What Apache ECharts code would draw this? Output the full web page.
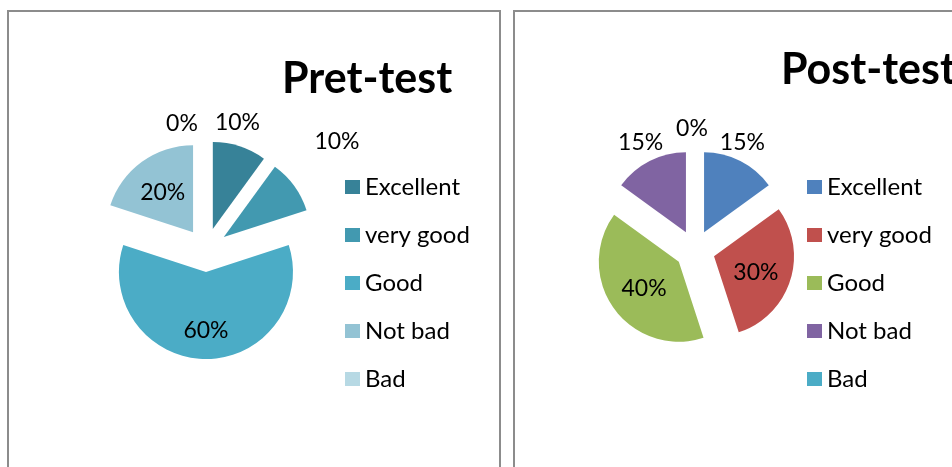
<!DOCTYPE html>
<html>
<head>
<meta charset="utf-8">
<script src="https://cdn.jsdelivr.net/npm/echarts@6/dist/echarts.min.js"></script>
<style>
  html, body { margin: 0; padding: 0; background: #fff; }
  body { width: 952px; height: 467px; position: relative; overflow: hidden; }
  .panel {
    position: absolute; top: 10px; height: 480px;
    box-sizing: border-box;
    border: 2px solid #8c8c8c; border-bottom: none;
  }
  .chart { position: absolute; top: 0; height: 467px; }
</style>
</head>
<body>
<div class="panel" style="left:7px;width:494px"></div>
<div class="panel" style="left:513px;width:460px"></div>
<div id="pre" class="chart" style="left:0;width:507px"></div>
<div id="post" class="chart" style="left:507px;width:445px"></div>

<script>
// categories shared by both charts
const categories = ['Excellent', 'very good', 'Good', 'Not bad', 'Bad']
// percent of students per rating
const preValues = [10, 10, 60, 20, 0]
const postValues = [15, 30, 40, 15, 0]

const preColors = ['#378298', '#4299b0', '#4bacc6', '#93c3d4', '#b7d9e4']
const postColors = ['#4f81bd', '#c0504d', '#9bbb59', '#8064a2', '#4bacc6']

const FONT = 'Lato, "Open Sans", sans-serif'

function buildOption(title, values, colors, cfg) {
  const data = categories.map(function(name, i) {
    const outside = cfg.outside.indexOf(i) >= 0
    return {
      name: name,
      value: values[i],
      selected: true,
      itemStyle: { color: colors[i] },
      label: {
        position: outside ? 'outside' : 'inside'
      }
    }
  })
  return {
    animation: false,
    title: {
      text: title,
      left: cfg.titleLeft,
      top: cfg.titleTop,
      textStyle: {
        fontFamily: FONT,
        fontWeight: 'bold',
        fontSize: 43,
        lineHeight: 46,
        color: '#000'
      }
    },
    legend: {
      orient: 'vertical',
      left: cfg.legendLeft,
      top: 175,
      padding: 0,
      itemGap: 24,
      itemWidth: 15,
      itemHeight: 14,
      icon: 'rect',
      selectedMode: false,
      data: categories,
      textStyle: {
        fontFamily: FONT,
        fontSize: 24,
        lineHeight: 24,
        color: '#000'
      }
    },
    series: [
      {
        type: 'pie',
        center: cfg.center,
        radius: cfg.radius,
        startAngle: 90,
        clockwise: true,
        selectedMode: 'multiple',
        selectedOffset: cfg.offset,
        avoidLabelOverlap: false,
        percentPrecision: 0,
        emphasis: { scale: false },
        label: {
          show: true,
          formatter: '{d}%',
          fontFamily: FONT,
          fontSize: 23,
          color: '#000',
          distanceToLabelLine: 0
        },
        labelLine: { show: false, length: 22, length2: 0 },
        labelLayout: function(p) {
          const n = cfg.nudge[p.dataIndex] || [0, 0]
          return { align: 'center', dx: n[0], dy: n[1] }
        },
        data: data
      }
    ]
  }
}

const preChart = echarts.init(document.getElementById('pre'))
preChart.setOption(buildOption('Pret-test', preValues, preColors, {
  titleLeft: 277,
  titleTop: 51,
  legendLeft: 345,
  center: [206, 250],
  radius: 87,
  offset: 22,
  outside: [0, 1, 4],
  nudge: [[-9, -3], [25, -31], [0, 12], [-3, -2], [-24, 5]]
}))

const postChart = echarts.init(document.getElementById('post'))
postChart.setOption(buildOption('Post-test', postValues, postColors, {
  titleLeft: 269,
  titleTop: 42,
  legendLeft: 300,
  center: [188, 250],
  radius: 80,
  offset: 20,
  outside: [0, 3, 4],
  nudge: [[-8, 1], [1, 3], [0, 2], [1, 1], [-3, 1]]
}))
</script>
</body>
</html>
